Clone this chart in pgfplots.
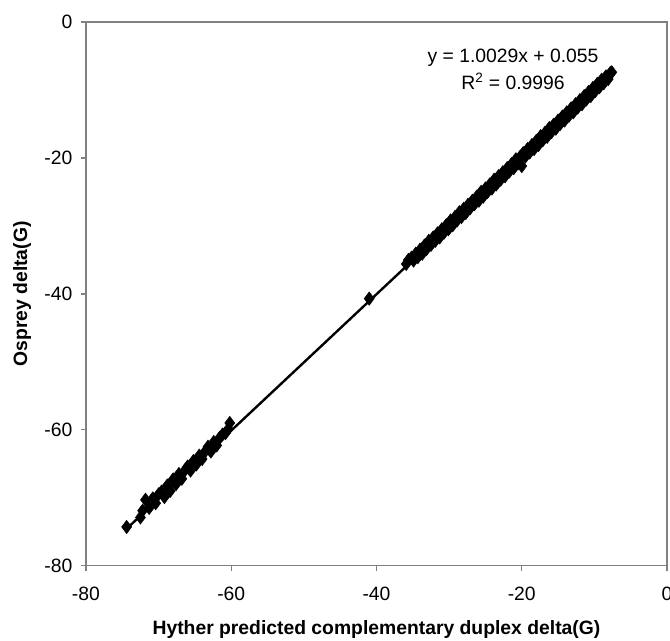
\documentclass[border=0pt]{standalone}
\usepackage{pgfplots}
\pgfplotsset{compat=1.18}
\usepackage{fontspec}
\setmainfont{Liberation Sans}
\definecolor{axgray}{RGB}{128,128,128}
\begin{document}
\begin{tikzpicture}
\begin{axis}[
  scale only axis,
  width=436pt, height=408pt,
  xmin=-80, xmax=0, ymin=-80, ymax=0,
  xtick={-80,-60,-40,-20,0}, ytick={-80,-60,-40,-20,0},
  tick align=outside, tick pos=lower,
  major tick length=3.75pt,
  axis line style={axgray, line width=1pt},
  every tick/.style={axgray, line width=1pt},
  /pgf/number format/assume math mode=true,
  ticklabel style={font=\fontsize{14.5}{17}\selectfont},
  xticklabel style={yshift=-9pt},
  yticklabel style={xshift=-3pt},
  xlabel={\bfseries Hyther predicted complementary duplex delta(G)},
  ylabel={\bfseries Osprey delta(G)},
  label style={font=\fontsize{14.5}{17}\selectfont},
  xlabel style={yshift=-8pt},
  ylabel style={yshift=3pt},
]
\addplot[only marks, mark=diamond*, mark size=5pt, black, mark options={fill=black}] coordinates {
(-74.4,-74.3) (-72.5,-72.9) (-72.2,-71.9) (-71.8,-70.3) (-71.3,-71.5) (-70.8,-70.1)
(-70.4,-70.8) (-70.0,-69.5) (-69.6,-69.1) (-69.2,-69.9) (-68.8,-68.2) (-68.4,-69.0)
(-68.0,-67.3) (-67.6,-68.0) (-67.2,-66.5) (-66.8,-67.2) (-66.4,-66.0) (-66.0,-65.4)
(-65.6,-66.0) (-65.2,-64.6) (-64.8,-65.1) (-64.4,-63.8) (-64.0,-64.3) (-63.6,-63.2)
(-63.2,-62.5) (-62.8,-63.2) (-62.4,-61.8) (-62.0,-62.3) (-61.6,-61.2) (-61.2,-60.7)
(-60.8,-60.5) (-60.4,-59.9) (-60.2,-59.0)
(-41.0,-40.7)
(-35.9,-35.6) (-35.6,-35.0) (-35.2,-34.7) (-34.9,-35.1) (-34.6,-34.1) (-34.3,-34.6)
(-34.0,-33.5) (-33.7,-34.1) (-33.4,-32.9) (-33.1,-33.4) (-32.8,-32.2) (-32.5,-32.8)
(-32.2,-31.7) (-31.9,-32.2) (-31.6,-31.1) (-31.3,-31.7) (-31.0,-30.5) (-30.7,-31.0)
(-30.4,-29.9) (-30.1,-30.5) (-29.8,-29.2) (-29.5,-29.9) (-29.2,-28.7) (-28.9,-29.2)
(-28.6,-28.0) (-28.3,-28.7) (-28.0,-27.5) (-27.7,-28.1) (-27.4,-26.9) (-27.1,-27.4)
(-26.8,-26.3) (-26.5,-26.8) (-26.2,-25.7) (-25.9,-26.3) (-25.6,-25.0) (-25.3,-25.7)
(-25.0,-24.5) (-24.7,-25.0) (-24.4,-23.9) (-24.1,-24.5) (-23.8,-23.2) (-23.5,-23.9)
(-23.2,-22.7) (-22.9,-23.2) (-22.6,-22.1) (-22.3,-22.7) (-22.0,-21.5) (-21.7,-22.0)
(-21.4,-20.9) (-21.1,-21.5) (-20.8,-20.2) (-20.5,-20.8) (-20.2,-19.8) (-20.0,-21.2)
(-19.8,-19.3) (-19.5,-19.8) (-19.2,-18.7) (-18.9,-19.2) (-18.6,-18.1) (-18.3,-18.7)
(-18.0,-17.5) (-17.7,-18.1) (-17.4,-16.8) (-17.1,-17.4) (-16.8,-16.3) (-16.5,-16.9)
(-16.2,-15.6) (-15.9,-16.2) (-15.6,-15.1) (-15.3,-15.7) (-15.0,-14.5) (-14.7,-15.0)
(-14.4,-13.9) (-14.1,-14.5) (-13.8,-13.3) (-13.5,-13.8) (-13.2,-12.7) (-12.9,-13.3)
(-12.6,-12.1) (-12.3,-12.6) (-12.0,-11.5) (-11.7,-12.1) (-11.4,-10.9) (-11.1,-11.4)
(-10.8,-10.3) (-10.5,-10.9) (-10.2,-9.7) (-9.9,-10.2) (-9.6,-9.1) (-9.3,-9.6)
(-9.0,-8.5) (-8.7,-9.0) (-8.4,-8.0) (-8.1,-8.4) (-7.8,-7.5) (-7.6,-7.4)
};
\addplot[black, line width=1.8pt] coordinates {(-74.5,-74.66) (-7.5,-7.467)};
\node[font=\fontsize{14.5}{17}\selectfont, anchor=base] at (axis cs:-21.2,-5.9) {y = 1.0029x + 0.055};
\node[font=\fontsize{14.5}{17}\selectfont, anchor=base] at (axis cs:-21.2,-9.9) {R\textsuperscript{2} = 0.9996};
\coordinate (bl) at (rel axis cs:0,0);
\coordinate (tr) at (rel axis cs:1,1);
\end{axis}
\pgfresetboundingbox
\path[use as bounding box] ([shift={(-64.5pt,-56.25pt)}]bl) rectangle ([shift={(2.25pt,16.5pt)}]tr);
\end{tikzpicture}
\end{document}
